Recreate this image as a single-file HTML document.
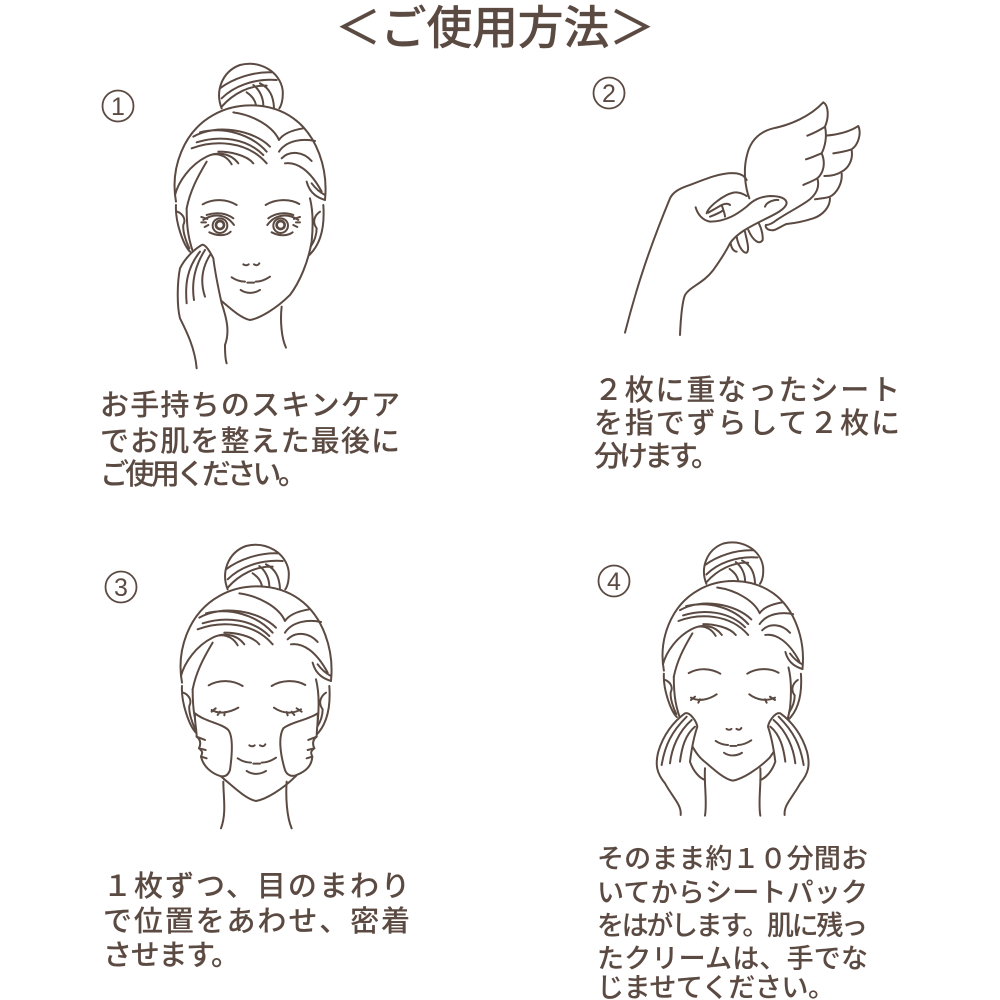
<!DOCTYPE html>
<html lang="ja"><head><meta charset="utf-8"><title>ご使用方法</title>
<style>
html,body{margin:0;padding:0;background:#fff}
svg{display:block}
text{font-family:"Liberation Sans","Noto Sans CJK JP",sans-serif;fill:#5b4a42}
.t{font-size:29px;font-weight:500;stroke:#5b4a42;stroke-width:.08}
.s{font-size:27px;font-weight:500;stroke:#5b4a42;stroke-width:.08}
.n{font-size:25px;text-anchor:middle;font-family:"Liberation Sans Narrow","Liberation Sans",sans-serif}
.l{fill:none;stroke:#5b4a42;stroke-width:6;stroke-linecap:round;stroke-linejoin:round}
.w{fill:#fff}
.c{fill:none;stroke:#5b4a42;stroke-width:1.8}
</style></head><body>
<svg width="1000" height="1000" viewBox="0 0 1000 1000" xmlns="http://www.w3.org/2000/svg">
<defs>
<g id="head">
<path d="M395 160C375 110 395 50 450 30C510 15 570 50 578 105C580 130 575 150 568 160"/>
<path d="M390 100C430 70 490 50 545 52M395 130C430 95 490 70 560 75M395 155C430 115 480 90 530 92M470 112C485 122 495 135 498 150M490 90C510 105 520 130 520 152M510 85C540 100 550 125 552 157"/>
<path d="M258 440C240 340 280 230 370 180C440 140 540 140 610 190C680 240 715 340 705 435"/>
<path d="M430 172C490 180 550 215 567 255C580 235 610 225 640 220M310 245C380 205 490 225 540 275M330 232C400 215 480 235 530 290M305 280C370 255 470 255 530 325M320 262C390 240 470 250 520 300M370 298C395 295 415 310 425 328M385 290C420 290 470 300 490 325"/>
<path d="M567 290C590 255 640 250 675 258M575 310C600 285 640 290 665 318M585 325C620 320 660 345 695 410M650 380C660 420 690 430 705 435M665 385C680 405 695 415 705 420"/>
<path d="M255 420C265 380 300 330 350 305C380 290 420 292 445 325M290 460C300 410 320 370 350 320"/>
<path class="w" d="M385 730C410 750 450 790 480 795C510 790 560 760 600 720C630 680 655 620 665 560C670 510 670 470 660 430"/>
<path d="M290 460C290 520 295 560 320 620C340 670 360 710 385 730"/>
<path d="M258 450C255 500 280 570 300 590M262 470C275 475 290 490 280 510C278 530 288 560 298 580M700 450C705 520 690 570 658 600M690 470C675 480 665 500 680 520C680 540 672 560 662 575"/>
<path d="M338 448C370 430 410 432 440 450M527 450C555 432 600 430 628 447"/>
<path d="M460 628C465 632 472 632 476 628M492 628C498 632 504 632 508 625M425 667C440 677 455 680 465 680M472 683H492M497 680C510 680 525 675 540 665M452 705C470 718 495 715 510 705"/>
</g>
<g id="open">
<path d="M340 495C365 478 405 472 432 510M352 492L334 486M348 502L334 502M355 510L344 516M350 480C380 470 410 475 430 490M358 532C385 545 410 542 422 530M532 510C560 472 600 478 625 495M612 492L630 486M618 502L630 502M610 510L622 516M535 490C555 475 585 470 610 480M545 532C570 545 595 542 608 532"/>
<circle cx="390" cy="512" r="22"/>
<circle cx="572" cy="512" r="22"/>
<circle cx="390" cy="510" r="12" stroke-width="8"/>
<circle cx="572" cy="510" r="12" stroke-width="8"/>
</g>
<g id="handL">
<path class="w" d="M272 840C275 810 250 790 225 745C200 715 195 690 205 650C220 600 250 560 285 535C300 530 320 560 322 575C310 610 305 640 300 680C310 710 330 730 345 735"/>
<path d="M215 690C225 630 245 590 290 545M240 685C245 640 265 590 305 555M270 680C275 640 285 600 315 575M345 700C342 750 352 800 345 842"/>
</g>
</defs>

<text x="335" y="44" font-size="46" style="font-weight:500;stroke:#5b4a42;stroke-width:.15" textLength="320" lengthAdjust="spacing">＜ご使用方法＞</text>

<circle class="c" cx="118" cy="106" r="15.5"/><text class="n" x="118" y="115">1</text>
<circle class="c" cx="609" cy="93" r="15.5"/><text class="n" x="609" y="102">2</text>
<circle class="c" cx="121" cy="587" r="15.5"/><text class="n" x="121" y="596">3</text>
<circle class="c" cx="614" cy="581" r="15.5"/><text class="n" x="614" y="590">4</text>

<!-- Panel 1 -->
<g class="l" transform="translate(90 55) scale(.3333)">
<use href="#head"/><use href="#open"/>
<path d="M575 755C570 800 575 850 588 878"/>
<path class="w" d="M320 940C315 880 290 830 270 790C260 750 262 680 270 640C285 610 310 585 335 570C345 565 360 590 370 610C375 650 385 700 395 745C410 790 420 830 405 870C405 890 405 910 410 925"/>
<path d="M290 745C285 690 290 640 330 590M312 735C305 690 310 640 345 585M345 725C330 680 335 640 360 600"/>
</g>

<!-- Panel 2 -->
<g class="l" transform="translate(590 70) scale(.3333)">
<path class="w" d="M478 385C465 350 460 300 470 260C480 210 510 185 550 175C600 165 660 140 700 97C715 105 718 140 705 170C712 200 705 230 695 250C708 280 700 310 682 325C690 350 680 375 650 395C620 415 590 430 560 450C550 458 540 465 528 465"/>
<path d="M705 170C690 180 670 190 652 197M695 250C675 258 660 265 648 268M682 325C665 335 650 340 640 345"/>
<path d="M708 197C740 195 780 185 805 168C815 190 805 225 785 238C765 245 745 248 730 250M785 240C790 270 775 295 755 305C740 315 720 318 703 318M755 310C758 340 740 370 720 380C705 385 690 385 675 388M720 385C720 410 700 435 670 445C640 455 610 460 590 462C570 470 555 485 540 480C530 478 525 470 528 465"/>
<path d="M105 788C140 650 180 530 240 385C250 365 270 355 300 345C350 325 400 305 440 310C455 312 465 320 470 330"/>
<path class="w" d="M270 795C272 750 275 700 285 675C300 650 340 640 370 600C395 565 410 540 420 520C440 490 480 470 520 450C550 435 585 420 590 400C590 385 570 378 540 378C510 380 490 390 470 410C445 430 410 455 360 455C335 450 322 430 317 412"/>
<path d="M350 430C355 410 400 375 430 368C445 365 460 372 470 378M355 428L395 405C405 400 415 400 420 405M360 440C375 435 395 425 400 420M395 405C400 420 405 432 405 440M525 410C530 395 555 388 565 390"/>
<path d="M422 520C425 540 435 545 440 545M440 500C445 530 460 550 470 548C480 540 470 510 465 485M475 480C490 515 510 525 518 510C520 490 510 465 505 458"/>
</g>

<!-- Panel 3 -->
<g class="l" transform="translate(96 536) scale(.3333)">
<use href="#head"/>
</g>
<g class="l" transform="translate(95 540) scale(.3333)">
<path d="M385 725C385 770 395 820 378 865M575 725C572 770 575 830 590 865"/>
<path d="M350 510C370 522 400 520 430 503M362 505L350 515M375 515L368 525M390 516L388 526M537 503C565 522 595 522 618 508M605 505L620 515M590 515L598 525M575 516L578 526"/>
<path class="w" d="M300 520C330 545 380 550 400 570C415 590 412 640 405 690C400 705 390 712 375 708C350 700 325 680 318 650C322 640 325 635 312 625C318 612 318 600 305 590C305 570 298 540 300 520Z"/>
<path d="M305 590L330 600M312 625L332 630M318 650L335 655"/>
<path class="w" d="M668 520C640 540 590 545 565 565C550 590 555 640 570 690C575 705 590 712 605 705C630 695 650 680 652 650C648 640 645 635 658 625C652 612 652 600 665 590C665 570 670 540 668 520Z"/>
<path d="M665 590L640 600M658 625L638 630M652 650L635 655"/>
</g>

<!-- Panel 4 -->
<g class="l" transform="translate(583.9 534.2) scale(.31)" style="stroke-width:6.4"><use href="#head"/></g>
<g class="l" transform="translate(590 535) scale(.3333)">
<path d="M303 488C325 500 355 495 380 478M315 485L303 495M330 493L325 503M478 478C500 495 530 500 555 488M540 485L555 495M525 493L530 503"/>
<use href="#handL"/>
<use href="#handL" transform="translate(856 0) scale(-1 1)"/>
</g>

<!-- Text -->
<text class="t" x="100" y="415" textLength="300">お手持ちのスキンケア</text>
<text class="t" x="100" y="451" textLength="300">でお肌を整えた最後に</text>
<text class="t" x="100" y="484" textLength="207">ご使用ください。</text>

<text class="t" x="594" y="400" textLength="306">２枚に重なったシート</text>
<text class="t" x="594" y="433" textLength="306">を指でずらして２枚に</text>
<text class="t" x="594" y="466" textLength="126">分けます。</text>

<text class="t" x="103" y="896" textLength="307">１枚ずつ、目のまわり</text>
<text class="t" x="103" y="931" textLength="307">で位置をあわせ、密着</text>
<text class="t" x="103" y="965" textLength="137">させます。</text>

<text class="s" x="597" y="868" textLength="271">そのまま約１０分間お</text>
<text class="s" x="597" y="902" textLength="271">いてからシートパック</text>
<text class="s" x="597" y="935" textLength="271">をはがします。肌に残っ</text>
<text class="s" x="597" y="968" textLength="271">たクリームは、手でな</text>
<text class="s" x="597" y="997" textLength="238">じませてください。</text>
</svg>
</body></html>
